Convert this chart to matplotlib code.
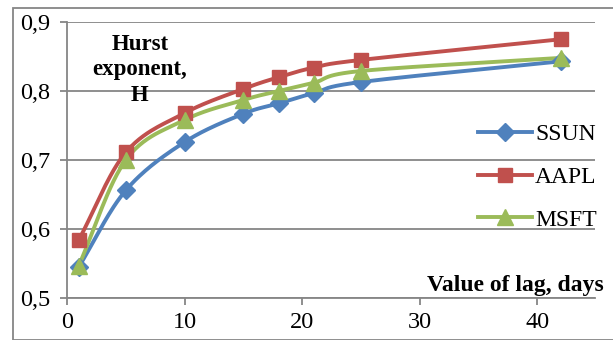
import numpy as np
import matplotlib.pyplot as plt
from matplotlib.lines import Line2D
from matplotlib.patches import Rectangle

lags = [1, 5, 10, 15, 18, 21, 25, 42]
ssun = [0.545, 0.656, 0.726, 0.767, 0.782, 0.797, 0.813, 0.843]
aapl = [0.584, 0.711, 0.768, 0.803, 0.820, 0.834, 0.845, 0.875]
msft = [0.547, 0.700, 0.758, 0.787, 0.800, 0.812, 0.829, 0.848]
x_ticks = [0, 10, 20, 30, 40]
y_ticks = [0.5, 0.6, 0.7, 0.8, 0.9]


def smooth(x, y, steps=30):
    # Catmull-Rom curve through the points, like Excel's smoothed line
    x = np.asarray(x, float)
    y = np.asarray(y, float)
    px = np.concatenate([[2 * x[0] - x[1]], x, [2 * x[-1] - x[-2]]])
    py = np.concatenate([[2 * y[0] - y[1]], y, [2 * y[-1] - y[-2]]])
    xs, ys = [], []
    t = np.linspace(0, 1, steps)
    for i in range(1, len(px) - 2):
        for p, out in ((px, xs), (py, ys)):
            p0, p1, p2, p3 = p[i - 1], p[i], p[i + 1], p[i + 2]
            out.extend(0.5 * (2 * p1 + (-p0 + p2) * t
                              + (2 * p0 - 5 * p1 + 4 * p2 - p3) * t ** 2
                              + (-p0 + 3 * p1 - 3 * p2 + p3) * t ** 3))
    return xs, ys


plt.rcParams['font.family'] = ['Liberation Serif', 'DejaVu Serif']

fig = plt.figure(figsize=(6.13, 3.4), dpi=100)
ax = fig.add_axes([67 / 613, 42 / 340, 528 / 613, 276 / 340])

series = [
    ("SSUN", ssun, "#4F81BD", "D", 9),
    ("AAPL", aapl, "#C0504D", "s", 10),
    ("MSFT", msft, "#9BBB59", "^", 11),
]
handles = []
for name, vals, col, mk, ms in series:
    sx, sy = smooth(lags, vals)
    ax.plot(sx, sy, color=col, lw=2.8, zorder=3, solid_capstyle="round")
    ax.plot(lags, vals, ls="none", marker=mk, ms=ms, color=col, zorder=4)
    handles.append(Line2D([], [], color=col, lw=2.8, marker=mk, ms=ms, label=name))

ax.set_xlim(0, 44.9)
ax.set_ylim(0.5, 0.9)
ax.set_xticks(x_ticks)
ax.set_yticks(y_ticks)
ax.set_yticklabels([f"{v:.1f}".replace(".", ",") for v in y_ticks])
ax.tick_params(axis="both", labelsize=17.5, color="#868686", width=1.3,
               length=5, direction="out")
ax.tick_params(axis="y", pad=7)
ax.tick_params(axis="x", pad=5)
ax.grid(axis="y", color="#868686", lw=1.3)
ax.set_axisbelow(True)
for s in ("top", "right"):
    ax.spines[s].set_visible(False)
for s in ("left", "bottom"):
    ax.spines[s].set_color("#868686")
    ax.spines[s].set_linewidth(1.3)

fig.text(140 / 613, 1 - 70 / 340, "Hurst\nexponent,\nH", ha="center", va="center",
         fontsize=16.5, fontweight="bold", fontstyle="normal", linespacing=1.3)
fig.text(604 / 613, 1 - 286 / 340, "Value of lag, days", ha="right", va="center",
         fontsize=17, fontweight="bold")

fig.legend(handles=handles, loc="center right", bbox_to_anchor=(597 / 613, 1 - 177 / 340),
           frameon=False, fontsize=17, handlelength=2.3, handletextpad=0.12,
           labelspacing=0.9, borderaxespad=0, borderpad=0)

fig.patches.append(Rectangle((12.5 / 613, 0), 1.2, (340 - 8) / 340, transform=fig.transFigure,
                             fill=False, ec="#868686", lw=1.3))

fig.savefig("out.png", dpi=100)
